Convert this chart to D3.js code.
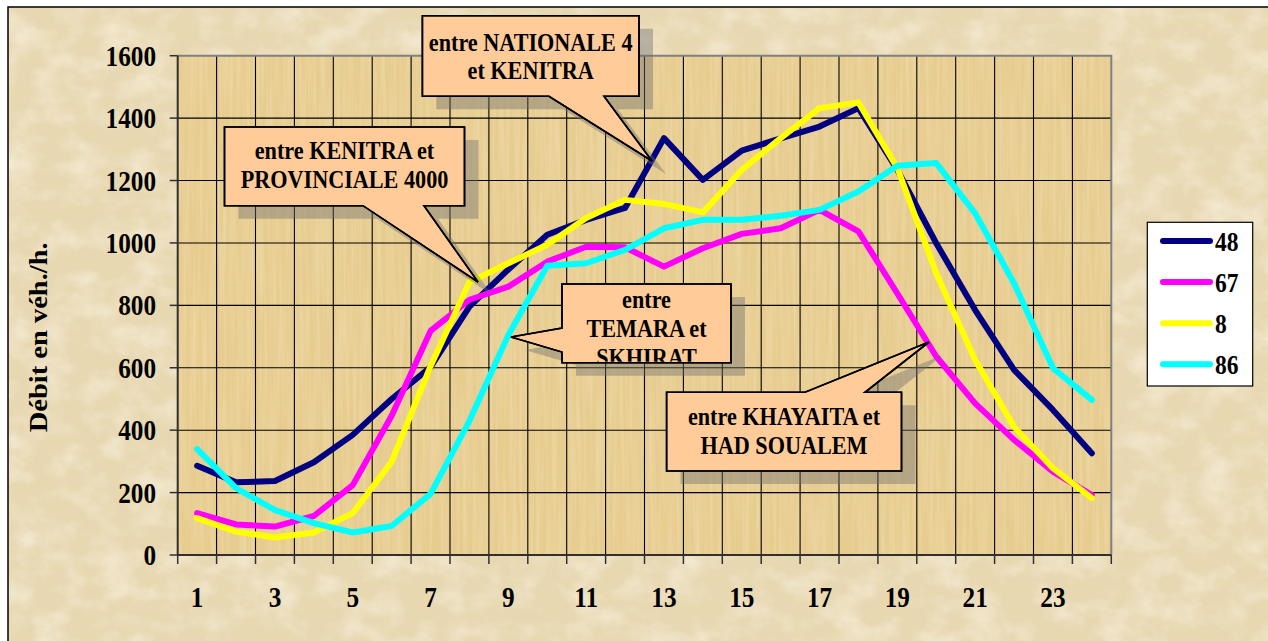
<!DOCTYPE html>
<html><head><meta charset="utf-8">
<script src="https://cdn.jsdelivr.net/npm/d3@7/dist/d3.min.js"></script>
<style>html,body{margin:0;padding:0;background:#fff;overflow:hidden}
text{font-family:"Liberation Serif","Times New Roman",serif;font-weight:bold;fill:#000}</style>
</head><body><svg id="c" width="1268" height="641"></svg>
<script>
// ---- data ----
const hours = d3.range(1, 25);
const xTickLabels = [1,3,5,7,9,11,13,15,17,19,21,23];
const yTicks = [0,200,400,600,800,1000,1200,1400,1600];
const seriesNames = ["48","67","8","86"];
const seriesColors = ["#000080","#ff00ff","#ffff00","#00ffff"];
const s48 = [286,233,237,297,385,500,602,796,915,1026,1074,1112,1336,1202,1296,1335,1373,1432,1234,999,785,593,465,326];
const s67 = [134,98,91,125,224,446,718,818,860,940,988,986,924,983,1029,1047,1106,1037,838,636,486,369,267,192];
const s8  = [118,75,56,72,134,299,605,875,935,994,1080,1138,1125,1098,1234,1336,1432,1450,1240,903,625,411,278,182];
const s86 = [339,214,144,102,72,93,196,430,705,927,935,978,1047,1074,1074,1087,1106,1165,1247,1256,1095,871,599,497];
const yTitle = "Débit en véh./h.";
const calloutTexts = [
  ["entre NATIONALE 4","et KENITRA"],
  ["entre KENITRA et","PROVINCIALE 4000"],
  ["entre","TEMARA et","SKHIRAT"],
  ["entre KHAYAITA et","HAD SOUALEM"]
];
const series = [s48, s67, s8, s86];

// ---- layout ----
const svg = d3.select("#c");
const P = {l:177.7, r:1111.3, t:55.7, b:555};
const SX = 0.87;
const x = d3.scaleBand().domain(hours).range([P.l, P.r]).paddingInner(0).paddingOuter(0);
const xc = h => x(h) + x.bandwidth()/2;
const y = d3.scaleLinear().domain([0,1600]).range([P.b, P.t]);

const defs = svg.append("defs");
const f1 = defs.append("filter").attr("id","paper").attr("x",0).attr("y",0).attr("width","100%").attr("height","100%");
f1.append("feTurbulence").attr("type","fractalNoise").attr("baseFrequency","0.03 0.04").attr("numOctaves",4).attr("seed",3);
f1.append("feColorMatrix").attr("type","matrix").attr("values","0 0 0 0 1  0 0 0 0 0.97  0 0 0 0 0.9  1.0 0 0 0 -0.42");
const f2 = defs.append("filter").attr("id","streak").attr("x",0).attr("y",0).attr("width","100%").attr("height","100%");
f2.append("feTurbulence").attr("type","fractalNoise").attr("baseFrequency","0.3 0.01").attr("numOctaves",2).attr("seed",7);
f2.append("feColorMatrix").attr("type","matrix").attr("values","0 0 0 0 1  0 0 0 0 0.95  0 0 0 0 0.8  0.45 0 0 0 -0.16");

// background & frame
svg.append("rect").attr("x",8).attr("y",7).attr("width",1260).attr("height",634).attr("fill","#e8d8b2");
svg.append("rect").attr("x",8).attr("y",7).attr("width",1260).attr("height",634).attr("filter","url(#paper)");
svg.append("path").attr("d","M8,641 V7 H1268").attr("fill","none").attr("stroke","#000").attr("stroke-width",1.5);

// plot area
svg.append("rect").attr("x",P.l).attr("y",P.t).attr("width",P.r-P.l).attr("height",P.b-P.t).attr("fill","#e7cc8f");
svg.append("rect").attr("x",P.l).attr("y",P.t).attr("width",P.r-P.l).attr("height",P.b-P.t).attr("filter","url(#streak)");

// gridlines
const grid = svg.append("g").attr("stroke","#000").attr("stroke-width",1.1);
yTicks.filter(v=>v>0 && v<1600).forEach(v=>grid.append("line").attr("x1",P.l).attr("x2",P.r).attr("y1",y(v)).attr("y2",y(v)));
hours.slice(1).forEach(h=>grid.append("line").attr("x1",x(h)).attr("x2",x(h)).attr("y1",P.t).attr("y2",P.b));
// plot border top/right
svg.append("path").attr("d",`M${P.l},${P.t} H${P.r} V${P.b}`).attr("fill","none").attr("stroke","#808080").attr("stroke-width",2);
// axes
const ax = svg.append("g").attr("stroke","#303030").attr("stroke-width",2);
ax.append("line").attr("x1",P.l).attr("x2",P.l).attr("y1",P.t).attr("y2",P.b);
ax.append("line").attr("x1",P.l).attr("x2",P.r).attr("y1",P.b).attr("y2",P.b);
yTicks.forEach(v=>ax.append("line").attr("x1",P.l-8).attr("x2",P.l).attr("y1",y(v)).attr("y2",y(v)).attr("stroke-width",1.5));
hours.concat([25]).forEach(h=>{const xx = h<=24 ? x(h) : P.r; ax.append("line").attr("x1",xx).attr("x2",xx).attr("y1",P.b).attr("y2",P.b+9).attr("stroke-width",1.5);});

function txt(g, tx, ty, str, size, anchor){
  return g.append("text").attr("transform",`translate(${tx},${ty}) scale(${SX},1)`)
    .attr("text-anchor",anchor).style("font-size",size+"px").text(str);
}
const lab = svg.append("g");
yTicks.forEach(v=>txt(lab, 156, y(v)+10, String(v), 29, "end"));
xTickLabels.forEach(h=>txt(lab, xc(h), 606.5, String(h), 29, "middle"));
lab.append("text").attr("transform",`translate(46.5,337.3) rotate(-90) scale(1,${SX})`)
  .attr("text-anchor","middle").style("font-size","28.5px").text(yTitle);

// lines
const line = d3.line().x((d,i)=>xc(hours[i])).y(d=>y(d));
series.forEach((s,k)=>{
  svg.append("path").datum(s).attr("d",line).attr("fill","none")
    .attr("stroke",seriesColors[k]).attr("stroke-width",6)
    .attr("stroke-linejoin","round").attr("stroke-linecap","round");
});

// callouts
const calloutGeo = [
  {b:[422.4,15.7,639,96.3], side:"bottom", a:549, c:604, tip:[652,161], cx:530.7, ys:[51,79]},
  {b:[224.5,127,464.5,205.7], side:"bottom", a:363, c:424, tip:[478,282], cx:344.5, ys:[159,188]},
  {b:[562,284,731,362.7], side:"left", a:328, c:352, tip:[511,337], cx:646.5, ys:[308,337,366]},
  {b:[666.6,392.3,901.5,471], side:"top", a:805, c:865, tip:[929,342], cx:784, ys:[425,454]}
];
function calloutPath(g){
  const [x0,y0,x1,y1] = g.b, t = g.tip;
  if(g.side==="bottom") return `M${x0},${y0}H${x1}V${y1}H${g.c}L${t[0]},${t[1]}L${g.a},${y1}H${x0}Z`;
  if(g.side==="top") return `M${x0},${y0}H${g.a}L${t[0]},${t[1]}L${g.c},${y0}H${x1}V${y1}H${x0}Z`;
  return `M${x0},${y0}H${x1}V${y1}H${x0}V${g.c}L${t[0]},${t[1]}L${x0},${g.a}Z`;
}
calloutGeo.forEach((g,i)=>{
  const d = calloutPath(g);
  svg.append("path").attr("d",d).attr("transform","translate(14,13)").attr("fill","#6e6e6e").attr("opacity",0.42);
  svg.append("path").attr("d",d).attr("fill","#ffcc99").attr("stroke","#000").attr("stroke-width",1.6).attr("stroke-linejoin","miter");
  const cid = "clip"+i;
  defs.append("clipPath").attr("id",cid).append("rect").attr("x",g.b[0]).attr("y",g.b[1]).attr("width",g.b[2]-g.b[0]).attr("height",g.b[3]-g.b[1]-1);
  const tg = svg.append("g").attr("clip-path",`url(#${cid})`);
  calloutTexts[i].forEach((s,j)=>txt(tg, g.cx, g.ys[j], s, 25.5, "middle"));
  svg.append("path").attr("d",d).attr("fill","none").attr("stroke","#000").attr("stroke-width",1.6);
});

// legend
const lg = svg.append("g");
lg.append("rect").attr("x",1147.3).attr("y",222.3).attr("width",105.4).attr("height",163.7).attr("fill","#fff").attr("stroke","#000").attr("stroke-width",1.2);
const ly = d3.scalePoint().domain(seriesNames).range([241,364.3]);
seriesNames.forEach((n,k)=>{
  lg.append("line").attr("x1",1163).attr("x2",1210).attr("y1",ly(n)).attr("y2",ly(n))
    .attr("stroke",seriesColors[k]).attr("stroke-width",6).attr("stroke-linecap","round");
  txt(lg, 1215, ly(n)+9.5, n, 27, "start");
});
</script></body></html>
